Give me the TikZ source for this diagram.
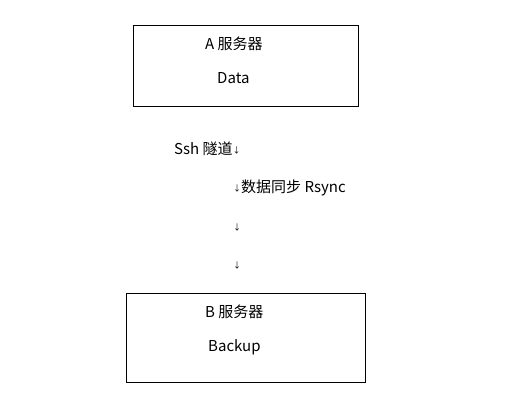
\documentclass[tikz,border=0pt]{standalone}
\usepackage{fontspec}
\setmainfont{Noto Sans CJK SC}
\begin{document}
\begin{tikzpicture}[x=1pt,y=-1pt,
  box/.style={draw=black,line width=0.9pt},
  lbl/.style={inner sep=0pt,anchor=west,font=\fontsize{15}{17}\selectfont},
  pm/.style={font=\fontsize{8}{9}\selectfont}]
\useasboundingbox (0,0) rectangle (514,410);
\draw[box] (133,25.5) rectangle (358.5,106.5);
\draw[box] (126.5,293.5) rectangle (365.5,382);
\node[lbl] (atitle) at (205,44) {A 服务器};
\node[lbl] (adata) at (217,78) {Data};
\node[lbl] (ssh) at (174,149) {Ssh 隧道\raisebox{1pt}{\fontsize{8}{9}\selectfont ↓}};
\node[lbl] (rsync) at (233,188) {\raisebox{1pt}{\fontsize{8}{9}\selectfont ↓}数据同步 Rsync};
\node[lbl,pm] (p1) at (233,227) {↓};
\node[lbl,pm] (p2) at (233,265) {↓};
\node[lbl] (btitle) at (205,312) {B 服务器};
\node[lbl] (bdata) at (208,347) {Backup};
\end{tikzpicture}
\end{document}
